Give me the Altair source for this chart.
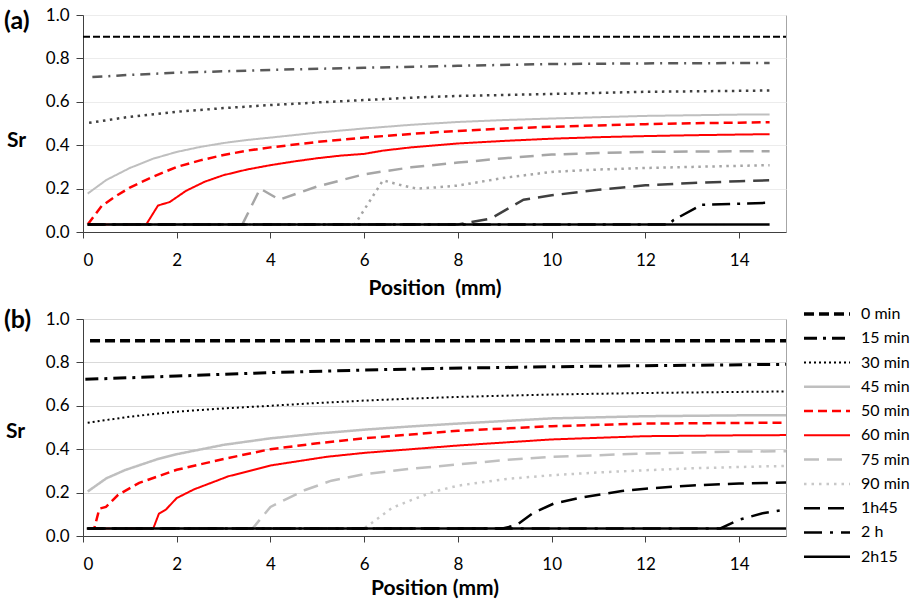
import altair as alt
import pandas as pd

SERIES = ["0 min", "15 min", "30 min", "45 min", "50 min", "60 min",
          "75 min", "90 min", "1h45", "2 h", "2h15"]
X_TICKS = [0, 2, 4, 6, 8, 10, 12, 14]
Y_TICKS = [0.0, 0.2, 0.4, 0.6, 0.8, 1.0]

# ---------------- panel (a) ----------------
A_0MIN_X = [0, 15]
A_0MIN_Y = [0.9, 0.9]
A_15MIN_X = [0.2, 1, 2, 4, 6, 8, 10, 12, 14.65]
A_15MIN_Y = [0.714, 0.724, 0.734, 0.747, 0.757, 0.766, 0.774, 0.777, 0.779]
A_30MIN_X = [0.13, 1, 2, 3, 4, 5, 6, 7, 8, 10, 12, 14.65]
A_30MIN_Y = [0.503, 0.531, 0.554, 0.571, 0.585, 0.597, 0.608, 0.619, 0.627, 0.636, 0.646, 0.652]
A_45MIN_X = [0.1, 0.5, 1, 1.5, 2, 2.5, 3, 3.5, 4, 5, 6, 7, 8, 9, 10, 11, 12, 13, 14, 14.65]
A_45MIN_Y = [0.177, 0.24, 0.295, 0.338, 0.369, 0.392, 0.41, 0.424, 0.435, 0.458, 0.477, 0.494,
             0.507, 0.516, 0.523, 0.529, 0.535, 0.538, 0.541, 0.542]
A_50MIN_X = [0.1, 0.4, 0.7, 1, 1.5, 2, 2.5, 3, 3.5, 4, 5, 6, 7, 8, 9, 10, 11, 12, 13, 14, 14.65]
A_50MIN_Y = [0.035, 0.12, 0.165, 0.205, 0.255, 0.3, 0.33, 0.355, 0.375, 0.39, 0.415, 0.435,
             0.452, 0.466, 0.477, 0.485, 0.491, 0.497, 0.501, 0.504, 0.506]
A_60MIN_X = [0.1, 1.35, 1.6, 1.85, 2.2, 2.6, 3, 3.5, 4, 4.5, 5, 5.5, 6, 6.4, 7, 8, 9, 10,
             11, 12, 13, 14, 14.65]
A_60MIN_Y = [0.035, 0.035, 0.122, 0.138, 0.19, 0.232, 0.262, 0.288, 0.308, 0.325, 0.34, 0.352,
             0.36, 0.375, 0.39, 0.408, 0.42, 0.43, 0.437, 0.442, 0.446, 0.449, 0.451]
A_75MIN_X = [0.1, 3.4, 3.78, 4.19, 5, 6, 7, 8, 9, 10, 11, 12, 13, 14, 14.65]
A_75MIN_Y = [0.035, 0.035, 0.2, 0.149, 0.21, 0.266, 0.298, 0.32, 0.34, 0.357, 0.364, 0.369,
             0.371, 0.372, 0.372]
A_90MIN_X = [0.1, 5.8, 6.4, 6.8, 7.13, 7.5, 8, 9, 10, 11, 12, 13, 14, 14.65]
A_90MIN_Y = [0.035, 0.035, 0.238, 0.215, 0.2, 0.205, 0.214, 0.25, 0.277, 0.288, 0.295, 0.3,
             0.305, 0.308]
A_1H45_X = [0.1, 8.0, 8.7, 9.4, 10, 11, 12, 13, 14, 14.65]
A_1H45_Y = [0.035, 0.035, 0.062, 0.149, 0.169, 0.195, 0.215, 0.226, 0.234, 0.238]
A_2H_X = [0.1, 12.5, 12.6, 13.2, 14, 14.65]
A_2H_Y = [0.035, 0.035, 0.055, 0.125, 0.13, 0.135]
A_2H15_X = [0.1, 14.65]
A_2H15_Y = [0.035, 0.035]

# ---------------- panel (b) ----------------
B_0MIN_X = [0.15, 15]
B_0MIN_Y = [0.9, 0.9]
B_15MIN_X = [0.05, 2, 4, 6, 7.8, 10, 12, 15]
B_15MIN_Y = [0.722, 0.737, 0.753, 0.765, 0.773, 0.78, 0.785, 0.791]
B_30MIN_X = [0.1, 1, 2, 3, 4, 5, 6, 7, 8, 10, 12, 14, 15]
B_30MIN_Y = [0.522, 0.55, 0.573, 0.588, 0.6, 0.613, 0.624, 0.633, 0.641, 0.652, 0.659, 0.664, 0.666]
B_45MIN_X = [0.1, 0.5, 0.9, 1.6, 2, 3, 4, 5, 6, 7, 8, 10, 12, 14, 15]
B_45MIN_Y = [0.205, 0.266, 0.304, 0.355, 0.377, 0.42, 0.45, 0.472, 0.49, 0.505, 0.518, 0.542,
             0.552, 0.556, 0.557]
B_50MIN_X = [0.1, 0.24, 0.35, 0.49, 0.75, 1.2, 2, 3, 4, 5, 6, 7, 8, 10, 12, 14, 15]
B_50MIN_Y = [0.035, 0.035, 0.126, 0.134, 0.19, 0.245, 0.305, 0.355, 0.4, 0.427, 0.45, 0.468,
             0.485, 0.506, 0.518, 0.521, 0.522]
B_60MIN_X = [0.1, 1.5, 1.62, 1.77, 2, 2.37, 3.1, 4, 5.2, 6, 7, 8, 10, 12, 14, 15]
B_60MIN_Y = [0.035, 0.035, 0.103, 0.122, 0.175, 0.215, 0.275, 0.325, 0.365, 0.383, 0.4, 0.417,
             0.445, 0.46, 0.464, 0.465]
B_75MIN_X = [0.1, 3.62, 4, 4.74, 5.3, 6, 7, 8, 9, 10, 12, 14, 15]
B_75MIN_Y = [0.035, 0.035, 0.134, 0.212, 0.255, 0.285, 0.31, 0.33, 0.35, 0.365, 0.38, 0.389, 0.391]
B_90MIN_X = [0.1, 6.0, 6.6, 7.0, 7.5, 8, 9, 10, 11, 12, 13, 14, 15]
B_90MIN_Y = [0.035, 0.035, 0.13, 0.165, 0.205, 0.232, 0.262, 0.28, 0.293, 0.303, 0.312, 0.318, 0.323]
B_1H45_X = [0.1, 8.95, 9.25, 9.6, 10.05, 10.7, 11.5, 12, 13, 14, 15]
B_1H45_Y = [0.035, 0.035, 0.05, 0.105, 0.15, 0.18, 0.207, 0.218, 0.233, 0.242, 0.246]
B_2H_X = [0.1, 13.6, 14.0, 14.5, 15]
B_2H_Y = [0.035, 0.035, 0.075, 0.105, 0.122]
B_2H15_X = [0.08, 15]
B_2H15_Y = [0.035, 0.035]

A_DATA = [(A_0MIN_X, A_0MIN_Y), (A_15MIN_X, A_15MIN_Y), (A_30MIN_X, A_30MIN_Y),
          (A_45MIN_X, A_45MIN_Y), (A_50MIN_X, A_50MIN_Y), (A_60MIN_X, A_60MIN_Y),
          (A_75MIN_X, A_75MIN_Y), (A_90MIN_X, A_90MIN_Y), (A_1H45_X, A_1H45_Y),
          (A_2H_X, A_2H_Y), (A_2H15_X, A_2H15_Y)]
B_DATA = [(B_0MIN_X, B_0MIN_Y), (B_15MIN_X, B_15MIN_Y), (B_30MIN_X, B_30MIN_Y),
          (B_45MIN_X, B_45MIN_Y), (B_50MIN_X, B_50MIN_Y), (B_60MIN_X, B_60MIN_Y),
          (B_75MIN_X, B_75MIN_Y), (B_90MIN_X, B_90MIN_Y), (B_1H45_X, B_1H45_Y),
          (B_2H_X, B_2H_Y), (B_2H15_X, B_2H15_Y)]


def to_frame(pairs):
    rows = []
    for name, (xs, ys) in zip(SERIES, pairs):
        for x, y in zip(xs, ys):
            rows.append({"series": name, "x": x, "y": y})
    return pd.DataFrame(rows)


# styles
A_COLORS = ["#000000", "#595959", "#404040", "#bfbfbf", "#ff0000", "#ff0000",
            "#a6a6a6", "#a6a6a6", "#404040", "#000000", "#000000"]
A_DASH = [[7, 3], [10, 6, 2, 6], [2.5, 4.5], [1, 0], [9, 5], [1, 0],
          [14, 8], [2.5, 4.5], [16, 8], [18, 7, 3, 7], [1, 0]]
A_WIDTH = [2, 2.5, 2.5, 2, 2.5, 2, 2.5, 2.5, 2.5, 2.5, 2.5]

B_COLORS = ["#000000", "#000000", "#000000", "#bfbfbf", "#ff0000", "#ff0000",
            "#c0c0c0", "#c8c8c8", "#000000", "#000000", "#000000"]
B_DASH = [[10, 5], [13, 6, 3, 6], [2, 3], [1, 0], [9, 5], [1, 0],
          [15, 8], [2.5, 5], [16, 8], [18, 8, 3, 8], [1, 0]]
B_WIDTH = [3.5, 3, 2, 2.5, 2.5, 2, 2.5, 2.5, 2.5, 2.5, 2.5]

FONT = "Lato"


def panel(df, colors, dashes, widths, legend, tag, tag_y, grid_color, xtitle,
          sr_x, sr_y, title_pad):
    lines = alt.Chart(df).mark_line().encode(
        x=alt.X("x:Q", scale=alt.Scale(domain=[0, 15], nice=False),
                axis=alt.Axis(values=X_TICKS, title=xtitle, grid=False,
                              tickSize=6, labelPadding=14, titlePadding=title_pad)),
        y=alt.Y("y:Q", scale=alt.Scale(domain=[0, 1], nice=False),
                axis=alt.Axis(values=Y_TICKS, format=".1f", title="Sr",
                              titleAngle=0, titleX=sr_x, titleY=sr_y,
                              titleAlign="center", titleBaseline="middle",
                              gridColor=grid_color, tickSize=7, labelPadding=7)),
        color=alt.Color("series:N", scale=alt.Scale(domain=SERIES, range=colors),
                        legend=legend),
        strokeDash=alt.StrokeDash("series:N", scale=alt.Scale(domain=SERIES, range=dashes),
                                  legend=legend),
        strokeWidth=alt.StrokeWidth("series:N",
                                    scale=alt.Scale(type="ordinal", domain=SERIES, range=widths),
                                    legend=legend),
    )
    label = alt.Chart(pd.DataFrame({"t": [tag]})).mark_text(
        font=FONT, fontSize=25, fontWeight="bold", align="left", baseline="middle",
        color="black"
    ).encode(text="t:N", x=alt.value(-79), y=alt.value(tag_y))
    return alt.layer(lines, label).properties(width=703, height=217)


legend_b = alt.Legend(
    title=None, orient="none", legendX=719, legendY=-13, symbolType="stroke",
    symbolSize=2116, clipHeight=16, rowPadding=8.27, labelFont=FONT,
    labelFontSize=16, labelColor="black", labelOffset=9, padding=0,
)

top = panel(to_frame(A_DATA), A_COLORS, A_DASH, A_WIDTH, None, "(a)", 5.5,
            "#ececec", "Position\u00a0\u00a0(mm)", -67, 125, 9)
bottom = panel(to_frame(B_DATA), B_COLORS, B_DASH, B_WIDTH, legend_b, "(b)", 1,
               "#d9d9d9", "Position (mm)", -68, 112, 5)

chart = alt.vconcat(top, bottom, spacing=6).resolve_scale(
    x="independent", y="independent",
    color="independent", strokeDash="independent", strokeWidth="independent"
).resolve_axis(
    x="independent", y="independent"
).resolve_legend(
    color="independent", strokeDash="independent", strokeWidth="independent"
).properties(
    padding={"left": 3, "top": 5, "right": 5, "bottom": 0},
    background="white",
).configure_view(
    stroke="#a6a6a6", strokeWidth=1
).configure_axis(
    labelFont=FONT, labelFontSize=17, labelColor="black",
    titleFont=FONT, titleFontSize=21, titleFontWeight="bold", titleColor="black",
    domainColor="#404040", tickColor="#404040", domainWidth=1, tickWidth=1,
)

chart.save("out.html", embed_options={"renderer": "svg", "actions": False})
